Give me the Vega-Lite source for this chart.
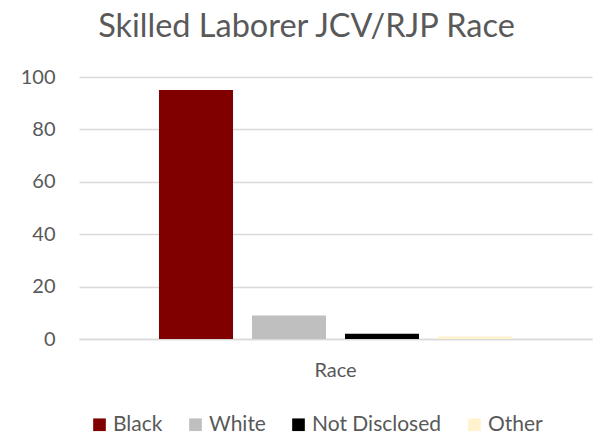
{
  "$schema": "https://vega.github.io/schema/vega-lite/v6.json",
  "autosize": {"type": "none"},
  "width": 513,
  "height": 262,
  "padding": {"left": 79, "top": 77, "right": 11, "bottom": 100},
  "background": "white",
  "title": {
    "text": "Skilled Laborer JCV/RJP Race",
    "font": "Lato",
    "fontSize": 32.5,
    "fontWeight": "normal",
    "color": "#595959",
    "anchor": "middle",
    "dx": -29,
    "offset": 24
  },
  "data": {
    "values": [
      {"category": "Race", "race": "Black", "value": 95},
      {"category": "Race", "race": "White", "value": 9},
      {"category": "Race", "race": "Not Disclosed", "value": 2},
      {"category": "Race", "race": "Other", "value": 1}
    ]
  },
  "mark": {"type": "bar"},
  "encoding": {
    "x": {
      "field": "category",
      "type": "nominal",
      "scale": {"paddingInner": 0, "paddingOuter": 0.2266},
      "axis": {
        "title": null,
        "labelAngle": 0,
        "ticks": false,
        "domainColor": "#D9D9D9",
        "domainWidth": 1.3,
        "labelFont": "Lato",
        "labelFontSize": 20,
        "labelColor": "#595959",
        "labelPadding": 21
      }
    },
    "xOffset": {
      "field": "race",
      "type": "nominal",
      "sort": ["Black", "White", "Not Disclosed", "Other"],
      "scale": {"paddingInner": 0.204, "paddingOuter": 0}
    },
    "y": {
      "field": "value",
      "type": "quantitative",
      "scale": {"domain": [0, 100], "nice": false},
      "axis": {
        "title": null,
        "values": [0, 20, 40, 60, 80, 100],
        "domain": false,
        "ticks": false,
        "gridColor": "#D9D9D9",
        "gridWidth": 1.3,
        "labelFont": "Lato",
        "labelFontSize": 20,
        "labelColor": "#595959",
        "labelPadding": 24
      }
    },
    "color": {
      "field": "race",
      "type": "nominal",
      "sort": ["Black", "White", "Not Disclosed", "Other"],
      "scale": {
        "domain": ["Black", "White", "Not Disclosed", "Other"],
        "range": ["#800000", "#BFBFBF", "#000000", "#FFF2CC"]
      },
      "legend": {
        "title": null,
        "orient": "none",
        "direction": "horizontal",
        "legendX": 10,
        "legendY": 337,
        "symbolType": "square",
        "symbolSize": 160,
        "symbolStrokeWidth": 0,
        "symbolOpacity": 1,
        "labelFont": "Lato",
        "labelFontSize": 21,
        "labelColor": "#595959",
        "labelOffset": 3,
        "columnPadding": 22
      }
    }
  },
  "config": {
    "view": {"stroke": null}
  }
}
